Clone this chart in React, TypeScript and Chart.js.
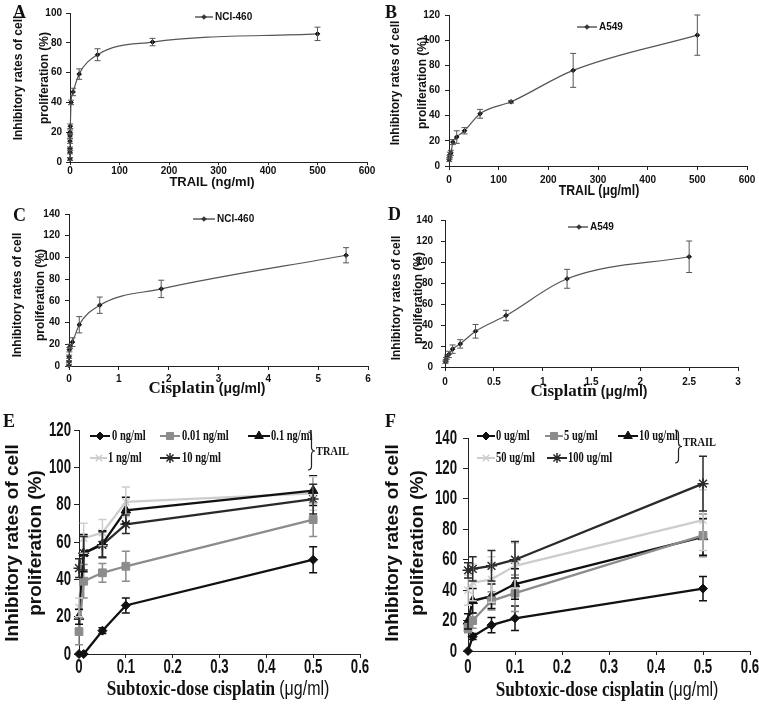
import React, { useEffect, useRef } from 'react';
import { Chart, registerables } from 'chart.js';
import { drawPoint } from 'chart.js/helpers';

Chart.register(...registerables);

const W = 800;
const H = 711;

const SANS = "'Liberation Sans', Arial, sans-serif";
const SERIF = "'Liberation Serif', 'Times New Roman', serif";

// ---------- Panel A : TRAIL on NCI-460 ----------
const aTrail = [0.001, 0.003, 0.008, 0.025, 0.076, 0.23, 0.69, 2.06, 6.17, 18.5, 55.6, 166.7, 500];
const aRate = [2, 6.5, 9, 14, 17.5, 20, 24, 40, 47, 59, 72, 80.5, 86];
const aErr = [1, 1, 1, 1.5, 1.5, 1.5, 1.5, 1.5, 2.5, 3.5, 4, 2.5, 4.5];

// ---------- Panel B : TRAIL on A549 ----------
const bTrail = [0.49, 0.98, 1.95, 3.9, 7.8, 15.6, 31.25, 62.5, 125, 250, 500];
const bRate = [5, 7, 9, 10.5, 19, 23, 28, 41.5, 51, 76, 104];
const bErr = [1.5, 1.5, 2, 2, 2, 5, 2.5, 3.5, 1, 13.5, 16];

// ---------- Panel C : cisplatin on NCI-460 ----------
const cCis = [0.0003, 0.0008, 0.0025, 0.0076, 0.023, 0.069, 0.206, 0.617, 1.85, 5.56];
const cRate = [0.5, 4, 8.5, 15, 18, 22, 38, 56, 71, 102];
const cErr = [1, 1, 1.5, 2, 2, 4, 7.5, 7.5, 8, 7];

// ---------- Panel D : cisplatin on A549 ----------
const dCis = [0.0049, 0.0098, 0.0195, 0.039, 0.078, 0.156, 0.3125, 0.625, 1.25, 2.5];
const dRate = [5, 7, 9.5, 12, 17, 22, 34, 49, 84, 105];
const dErr = [1.5, 2, 2, 3, 4, 4, 6.5, 5, 9, 15];

// ---------- Panel E : subtoxic cisplatin + TRAIL (NCI-460) ----------
const eCis = [0, 0.01, 0.05, 0.1, 0.5];
const eLabels = ['0 ng/ml', '0.01 ng/ml', '0.1 ng/ml', '1 ng/ml', '10 ng/ml'];
const eT0 = [0, 0, 12.5, 26, 50.5];
const eT0Err = [0, 0, 1.5, 4, 7];
const eT001 = [12, 39, 43.5, 47, 72];
const eT001Err = [7, 9, 5, 8, 9];
const eT01 = [20, 54, 59, 77, 87.5];
const eT01Err = [4, 10, 7, 7, 8];
const eT1 = [25, 62, 65, 81.5, 86];
const eT1Err = [5, 8, 7, 8, 9];
const eT10 = [46, 54, 58.5, 69.5, 83];
const eT10Err = [5, 9, 7, 5, 8];

// ---------- Panel F : subtoxic cisplatin + TRAIL (A549) ----------
const fCis = [0, 0.01, 0.05, 0.1, 0.5];
const fLabels = ['0 ug/ml', '5 ug/ml', '10 ug/ml', '50 ug/ml', '100 ug/ml'];
const fT0 = [0, 9.5, 17, 21.5, 41];
const fT0Err = [0, 2, 5, 8, 8];
const fT5 = [15, 20, 33, 38, 76];
const fT5Err = [3, 5, 6, 12, 14];
const fT10 = [19.5, 33, 36, 44, 75];
const fT10Err = [5, 8, 8, 10, 12];
const fT50 = [40, 45, 47, 56, 86];
const fT50Err = [10, 12, 15, 15, 20];
const fT100 = [53, 54, 56, 60, 110];
const fT100Err = [5, 8, 10, 12, 18];

// ---------- styles ----------
const BLACK = '#111111';
const GRAY = '#8c8c8c';
const LIGHT = '#cdcdcd';
const DARK = '#2a2a2a';

type Style = { color: string; pointStyle: string; radius: number; bw: number; lw: number };
const comboStyles: Style[] = [
  { color: BLACK, pointStyle: 'rectRot', radius: 4.5, bw: 1, lw: 2.3 },
  { color: GRAY, pointStyle: 'rect', radius: 5.5, bw: 1, lw: 2.3 },
  { color: BLACK, pointStyle: 'triangle', radius: 5.5, bw: 1, lw: 2.3 },
  { color: LIGHT, pointStyle: 'crossRot', radius: 5, bw: 1.5, lw: 2.3 },
  { color: DARK, pointStyle: 'star', radius: 5.5, bw: 1.5, lw: 2.3 },
];

const pts = (xs: number[], ys: number[]) => xs.map((x, i) => ({ x, y: ys[i] }));
const fmt = (v: number) => String(+Number(v).toFixed(3));

function singleSet(xs: number[], ys: number[], errs: number[]) {
  return {
    data: pts(xs, ys),
    errors: errs,
    borderColor: '#555',
    borderWidth: 1.2,
    cubicInterpolationMode: 'monotone',
    pointStyle: 'rectRot',
    pointRadius: 2.3,
    pointBackgroundColor: BLACK,
    pointBorderColor: BLACK,
    pointBorderWidth: 1,
    clip: false,
  };
}

function comboSet(xs: number[], ys: number[], errs: number[], s: Style) {
  return {
    data: pts(xs, ys),
    errors: errs,
    borderColor: s.color,
    borderWidth: s.lw,
    tension: 0,
    pointStyle: s.pointStyle,
    pointRadius: s.radius,
    pointBackgroundColor: s.color,
    pointBorderColor: s.color,
    pointBorderWidth: s.bw,
    clip: false,
  };
}

type Seg = { text: string; font: string; sx: number };
type LegendItem = {
  label: string; x1: number; x2: number; mx: number; tx: number; y: number;
  color: string; lw: number; pointStyle: string; radius: number; bw: number;
};
type Decor = {
  letter: { text: string; x: number; y: number; font: string };
  yTitle: { lines: [string, number][]; y: number; font: string };
  xTitle: { segs: Seg[]; x: number; y: number };
  legend: { items: LegendItem[]; font: string; sx: number };
  brace?: { x: number; y1: number; y2: number; lx: number; ly: number; font: string; sx: number };
  ticks?: { font: string; sx: number; yGap: number; xY: number };
  capW: number;
  errW: number;
};

function txt(ctx: CanvasRenderingContext2D, s: string, x: number, y: number, font: string,
  align: CanvasTextAlign = 'left', sx = 1, rot = 0) {
  ctx.save();
  ctx.translate(x, y);
  if (rot) ctx.rotate(rot);
  ctx.scale(sx, 1);
  ctx.font = font;
  ctx.fillStyle = '#111';
  ctx.textAlign = align;
  ctx.textBaseline = 'middle';
  ctx.fillText(s, 0, 0);
  ctx.restore();
}

function makeDecor(d: Decor) {
  return {
    id: 'decor',
    afterDatasetsDraw(chart: any) {
      const ctx: CanvasRenderingContext2D = chart.ctx;
      const ys = chart.scales.y;
      chart.data.datasets.forEach((ds: any, i: number) => {
        const meta = chart.getDatasetMeta(i);
        const errs: number[] = ds.errors || [];
        ctx.save();
        ctx.strokeStyle = ds.borderColor;
        ctx.lineWidth = d.errW;
        meta.data.forEach((pt: any, j: number) => {
          const e = errs[j];
          if (!e) return;
          const v = ds.data[j].y;
          const y1 = ys.getPixelForValue(v + e);
          const y2 = ys.getPixelForValue(v - e);
          ctx.beginPath();
          ctx.moveTo(pt.x, y1); ctx.lineTo(pt.x, y2);
          ctx.moveTo(pt.x - d.capW, y1); ctx.lineTo(pt.x + d.capW, y1);
          ctx.moveTo(pt.x - d.capW, y2); ctx.lineTo(pt.x + d.capW, y2);
          ctx.stroke();
        });
        ctx.restore();
      });
    },
    afterDraw(chart: any) {
      const ctx: CanvasRenderingContext2D = chart.ctx;
      // condensed tick labels, placed through the chart's own scales
      if (d.ticks) {
        const t = d.ticks;
        const xs = chart.scales.x;
        const ys = chart.scales.y;
        xs.ticks.forEach((tk: any) => txt(ctx, fmt(tk.value), xs.getPixelForValue(tk.value), t.xY, t.font, 'center', t.sx));
        ys.ticks.forEach((tk: any) => txt(ctx, fmt(tk.value), ys.left + ys.width - t.yGap, ys.getPixelForValue(tk.value), t.font, 'right', t.sx));
      }
      // panel letter
      txt(ctx, d.letter.text, d.letter.x, d.letter.y, d.letter.font, 'left');
      // y title
      d.yTitle.lines.forEach(([s, x]) => txt(ctx, s, x, d.yTitle.y, d.yTitle.font, 'center', 1, -Math.PI / 2));
      // x title
      let total = 0;
      const widths = d.xTitle.segs.map((g) => {
        ctx.font = g.font;
        const w = ctx.measureText(g.text).width * g.sx;
        total += w;
        return w;
      });
      let cx = d.xTitle.x - total / 2;
      d.xTitle.segs.forEach((g, i) => {
        txt(ctx, g.text, cx, d.xTitle.y, g.font, 'left', g.sx);
        cx += widths[i];
      });
      // legend
      d.legend.items.forEach((it) => {
        ctx.save();
        ctx.strokeStyle = it.color;
        ctx.lineWidth = it.lw;
        ctx.beginPath();
        ctx.moveTo(it.x1, it.y);
        ctx.lineTo(it.x2, it.y);
        ctx.stroke();
        ctx.fillStyle = it.color;
        ctx.strokeStyle = it.color;
        ctx.lineWidth = it.bw;
        drawPoint(ctx, { pointStyle: it.pointStyle as any, radius: it.radius, borderWidth: it.bw, rotation: 0 }, it.mx, it.y);
        ctx.restore();
        txt(ctx, it.label, it.tx, it.y, d.legend.font, 'left', d.legend.sx);
      });
      // brace
      if (d.brace) {
        const b = d.brace;
        const mid = (b.y1 + b.y2) / 2;
        const w = 7;
        ctx.save();
        ctx.strokeStyle = '#222';
        ctx.lineWidth = 1.2;
        ctx.beginPath();
        ctx.moveTo(b.x, b.y1);
        ctx.quadraticCurveTo(b.x + w / 2, b.y1, b.x + w / 2, b.y1 + 4);
        ctx.lineTo(b.x + w / 2, mid - 4);
        ctx.quadraticCurveTo(b.x + w / 2, mid, b.x + w, mid);
        ctx.quadraticCurveTo(b.x + w / 2, mid, b.x + w / 2, mid + 4);
        ctx.lineTo(b.x + w / 2, b.y2 - 4);
        ctx.quadraticCurveTo(b.x + w / 2, b.y2, b.x, b.y2);
        ctx.stroke();
        ctx.restore();
        txt(ctx, 'TRAIL', b.lx, b.ly, b.font, 'left', b.sx);
      }
    },
  };
}

type Panel = {
  area: { l: number; t: number; r: number; b: number };
  xMax: number; xStep: number; yMax: number; yStep: number;
  tickFont: any;
  showTicks: boolean;
  yTl: number; yPad: number; xTl: number; xPad: number;
  datasets: any[];
  decor: Decor;
};

const smallTick = { family: SANS, size: 10, weight: 'bold' };
const yTitleSmall = `bold 12px ${SANS}`;
const yTitleBig = `bold 19px ${SANS}`;
const letterFont = `bold 18px ${SERIF}`;
const legSmall = `bold 10px ${SANS}`;
const legBig = `bold 14px ${SERIF}`;
const bigTickFont = `bold 20px ${SANS}`;

function singleLegend(label: string, x1: number, x2: number, mx: number, tx: number, y: number): LegendItem[] {
  return [{ label, x1, x2, mx, tx, y, color: '#333', lw: 1.2, pointStyle: 'rectRot', radius: 2.3, bw: 1 }];
}

function comboLegend(labels: string[], pos: number[][]): LegendItem[] {
  return labels.map((label, i) => {
    const s = comboStyles[i];
    const [x1, x2, mx, tx, y] = pos[i];
    return { label, x1, x2, mx, tx, y, color: s.color, lw: 2, pointStyle: s.pointStyle, radius: s.radius - 0.5, bw: s.bw };
  });
}

const cisSegs = (a: number, b: number): Seg[] => [
  { text: 'Cisplatin ', font: `bold ${a}px ${SERIF}`, sx: 1 },
  { text: '(μg/ml)', font: `bold ${b}px ${SANS}`, sx: 1 },
];
const subSegs: Seg[] = [
  { text: 'Subtoxic-dose cisplatin ', font: `bold 22px ${SERIF}`, sx: 0.78 },
  { text: '(μg/ml)', font: `20px ${SANS}`, sx: 0.8 },
];

const PANELS: Panel[] = [
  {
    area: { l: 70, t: 13, r: 367, b: 162 }, xMax: 600, xStep: 100, yMax: 100, yStep: 20,
    tickFont: smallTick, showTicks: true, yTl: 4, yPad: 4, xTl: 3, xPad: 0,
    datasets: [singleSet(aTrail, aRate, aErr)],
    decor: {
      letter: { text: 'A', x: 13, y: 13, font: letterFont },
      yTitle: { lines: [['Inhibitory rates of cell', 19], ['proliferation (%)', 45]], y: 78, font: yTitleSmall },
      xTitle: { segs: [{ text: 'TRAIL (ng/ml)', font: `bold 13px ${SANS}`, sx: 1 }], x: 212, y: 182 },
      legend: { items: singleLegend('NCI-460', 195, 213, 204, 215, 17), font: legSmall, sx: 1 },
      capW: 3, errW: 1,
    },
  },
  {
    area: { l: 449, t: 15, r: 747, b: 166 }, xMax: 600, xStep: 100, yMax: 120, yStep: 20,
    tickFont: smallTick, showTicks: true, yTl: 4, yPad: 5, xTl: 4, xPad: 4,
    datasets: [singleSet(bTrail, bRate, bErr)],
    decor: {
      letter: { text: 'B', x: 385, y: 13, font: letterFont },
      yTitle: { lines: [['Inhibitory rates of cell', 396], ['proliferation (%)', 423]], y: 83, font: yTitleSmall },
      xTitle: { segs: [{ text: 'TRAIL (μg/ml)', font: `bold 15px ${SANS}`, sx: 0.82 }], x: 599, y: 191 },
      legend: { items: singleLegend('A549', 577, 597, 587, 599, 27), font: legSmall, sx: 1 },
      capW: 3, errW: 1,
    },
  },
  {
    area: { l: 69, t: 214, r: 368, b: 366 }, xMax: 6, xStep: 1, yMax: 140, yStep: 20,
    tickFont: smallTick, showTicks: true, yTl: 4, yPad: 5, xTl: 4, xPad: 3,
    datasets: [singleSet(cCis, cRate, cErr)],
    decor: {
      letter: { text: 'C', x: 13, y: 216, font: letterFont },
      yTitle: { lines: [['Inhibitory rates of cell', 17.5], ['proliferation (%)', 41]], y: 295, font: yTitleSmall },
      xTitle: { segs: cisSegs(17, 14), x: 207, y: 389 },
      legend: { items: singleLegend('NCI-460', 193, 215, 204, 217, 219), font: legSmall, sx: 1 },
      capW: 3, errW: 1,
    },
  },
  {
    area: { l: 445, t: 220, r: 738, b: 367 }, xMax: 3, xStep: 0.5, yMax: 140, yStep: 20,
    tickFont: smallTick, showTicks: true, yTl: 4, yPad: 8, xTl: 4, xPad: 5,
    datasets: [singleSet(dCis, dRate, dErr)],
    decor: {
      letter: { text: 'D', x: 388, y: 215, font: letterFont },
      yTitle: { lines: [['Inhibitory rates of cell', 397], ['proliferation (%)', 419]], y: 298, font: yTitleSmall },
      xTitle: { segs: cisSegs(17, 14), x: 589, y: 392 },
      legend: { items: singleLegend('A549', 568, 588, 579, 590, 227), font: legSmall, sx: 1 },
      capW: 3, errW: 1,
    },
  },
  {
    area: { l: 79, t: 430, r: 360, b: 654 }, xMax: 0.6, xStep: 0.1, yMax: 120, yStep: 20,
    tickFont: smallTick, showTicks: false, yTl: 5, yPad: 5, xTl: 4, xPad: 0,
    datasets: [
      comboSet(eCis, eT0, eT0Err, comboStyles[0]),
      comboSet(eCis, eT001, eT001Err, comboStyles[1]),
      comboSet(eCis, eT01, eT01Err, comboStyles[2]),
      comboSet(eCis, eT1, eT1Err, comboStyles[3]),
      comboSet(eCis, eT10, eT10Err, comboStyles[4]),
    ],
    decor: {
      letter: { text: 'E', x: 3, y: 422, font: letterFont },
      yTitle: { lines: [['Inhibitory rates of cell', 12.5], ['proliferation (%)', 36]], y: 543, font: yTitleBig },
      xTitle: { segs: subSegs, x: 218, y: 689 },
      legend: {
        items: comboLegend(eLabels, [
          [90, 110, 100, 112, 436],
          [160, 180, 170, 182, 436],
          [248, 270, 259, 271, 436],
          [90, 107, 99, 108, 458],
          [160, 180, 170, 182, 458],
        ]),
        font: legBig, sx: 0.75,
      },
      brace: { x: 308, y1: 432, y2: 470, lx: 316, ly: 452, font: `bold 13px ${SERIF}`, sx: 0.8 },
      ticks: { font: bigTickFont, sx: 0.66, yGap: 8, xY: 667 },
      capW: 4, errW: 1.5,
    },
  },
  {
    area: { l: 468, t: 438, r: 750, b: 651 }, xMax: 0.6, xStep: 0.1, yMax: 140, yStep: 20,
    tickFont: smallTick, showTicks: false, yTl: 5, yPad: 4, xTl: 4, xPad: 3,
    datasets: [
      comboSet(fCis, fT0, fT0Err, comboStyles[0]),
      comboSet(fCis, fT5, fT5Err, comboStyles[1]),
      comboSet(fCis, fT10, fT10Err, comboStyles[2]),
      comboSet(fCis, fT50, fT50Err, comboStyles[3]),
      comboSet(fCis, fT100, fT100Err, comboStyles[4]),
    ],
    decor: {
      letter: { text: 'F', x: 385, y: 422, font: letterFont },
      yTitle: { lines: [['Inhibitory rates of cell', 393], ['proliferation (%)', 418]], y: 543, font: yTitleBig },
      xTitle: { segs: subSegs, x: 607, y: 690 },
      legend: {
        items: comboLegend(fLabels, [
          [477, 495, 486, 496, 436],
          [545, 563, 554, 564, 436],
          [618, 638, 628, 639, 436],
          [477, 495, 486, 496, 458],
          [547, 567, 557, 568, 458],
        ]),
        font: legBig, sx: 0.75,
      },
      brace: { x: 675, y1: 430, y2: 463, lx: 683, ly: 443, font: `bold 13px ${SERIF}`, sx: 0.8 },
      ticks: { font: bigTickFont, sx: 0.66, yGap: 11, xY: 667 },
      capW: 4, errW: 1.5,
    },
  },
];

function buildConfig(p: Panel): any {
  const yW = 60;
  const xH = 30;
  return {
    type: 'line',
    data: { datasets: p.datasets },
    options: {
      responsive: false,
      animation: false,
      events: [],
      layout: {
        autoPadding: false,
        padding: { left: p.area.l - yW, top: p.area.t, right: W - p.area.r, bottom: H - p.area.b - xH },
      },
      plugins: { legend: { display: false }, tooltip: { enabled: false } },
      scales: {
        x: {
          type: 'linear', min: 0, max: p.xMax,
          afterFit: (s: any) => { s.height = xH; },
          ticks: {
            display: p.showTicks, stepSize: p.xStep, font: p.tickFont, color: '#111', padding: p.xPad,
            maxRotation: 0, autoSkip: false, callback: (v: number) => fmt(v),
          },
          grid: { display: true, drawOnChartArea: false, drawTicks: true, tickLength: p.xTl, color: '#222' },
          border: { display: true, color: '#222', width: 1 },
        },
        y: {
          type: 'linear', min: 0, max: p.yMax,
          afterFit: (s: any) => { s.width = yW; },
          ticks: { display: p.showTicks, stepSize: p.yStep, font: p.tickFont, color: '#111', padding: p.yPad },
          grid: { display: true, drawOnChartArea: false, drawTicks: true, tickLength: p.yTl, color: '#222' },
          border: { display: true, color: '#222', width: 1 },
        },
      },
    },
    plugins: [makeDecor(p.decor)],
  };
}

export default function App() {
  const refs = useRef<(HTMLCanvasElement | null)[]>([]);
  useEffect(() => {
    const charts = PANELS.map((p, i) => new Chart(refs.current[i] as HTMLCanvasElement, buildConfig(p)));
    return () => charts.forEach((c) => c.destroy());
  }, []);
  return (
    <div style={{ position: 'fixed', left: 0, top: 0, width: 759, height: 711, overflow: 'hidden', background: '#fff' }}>
      {PANELS.map((_, i) => (
        <canvas
          key={i}
          ref={(el) => { refs.current[i] = el; }}
          width={W}
          height={H}
          style={{ position: 'absolute', left: 0, top: 0, width: W, height: H }}
        />
      ))}
    </div>
  );
}
